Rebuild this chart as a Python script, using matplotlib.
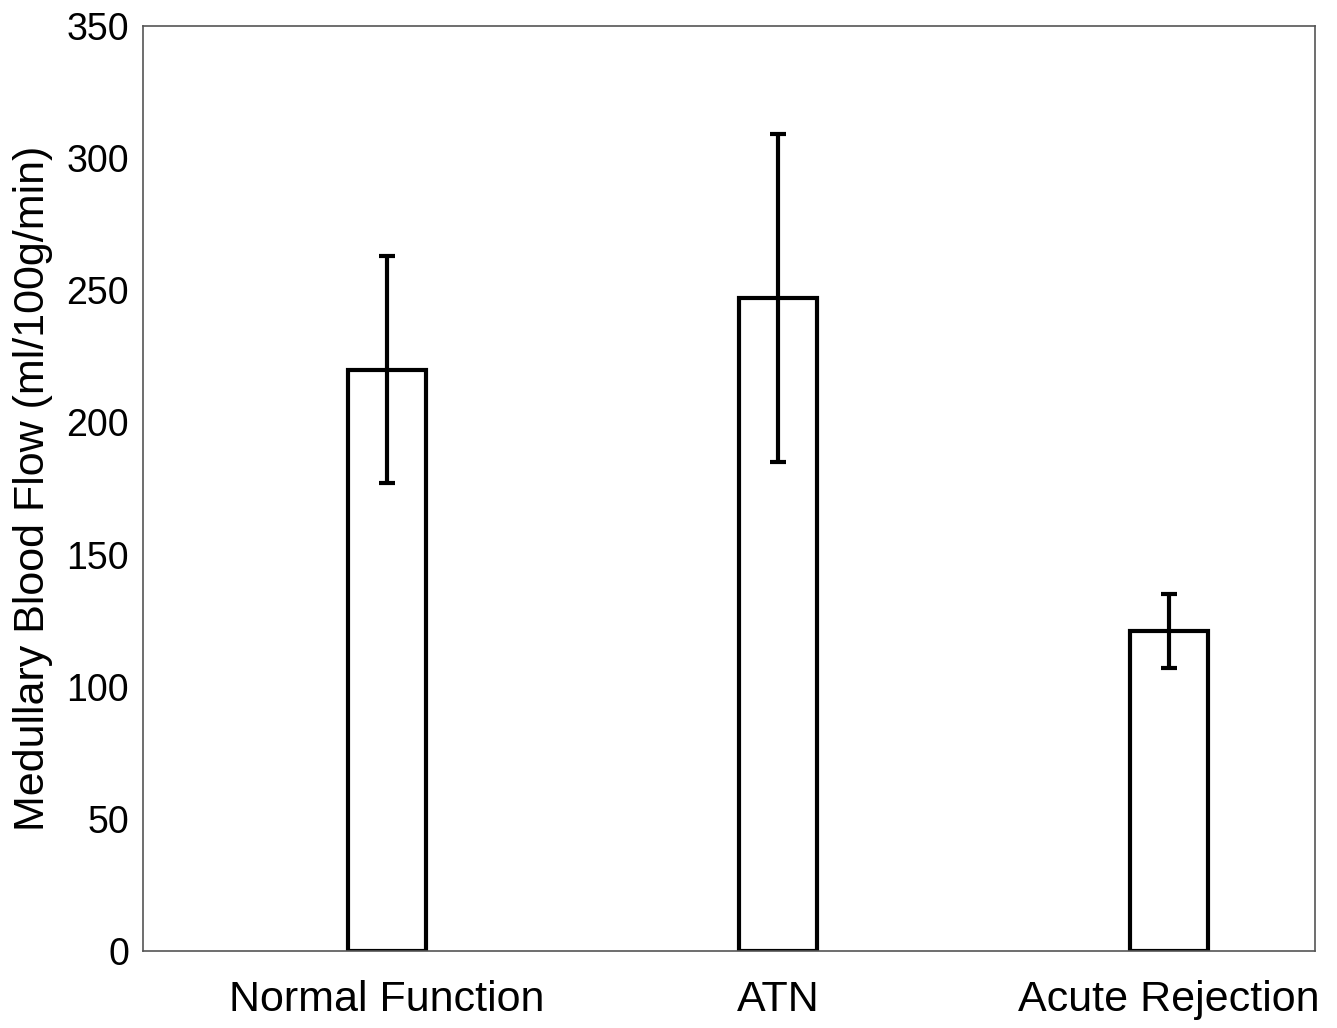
import matplotlib.pyplot as plt
import numpy as np

plt.rcParams['font.family'] = ['Liberation Sans', 'DejaVu Sans']

# Medullary blood flow by group
groups = ['Normal Function', 'ATN', 'Acute Rejection']
flow = [220, 247, 121]
flow_err = [43, 62, 14]

fig = plt.figure(figsize=(13.37, 10.28), dpi=100)
ax = fig.add_axes([0.107, 0.0749, 0.8765, 0.8998])

x = np.arange(len(groups))
ax.bar(x, flow, width=0.2, color='white', edgecolor='black', linewidth=3,
       yerr=flow_err, capsize=6, error_kw=dict(elinewidth=3, capthick=3, ecolor='black'))

ax.set_xlim(-0.624, 2.373)
ax.set_ylim(0, 350)
ax.set_yticks(np.arange(0, 351, 50))
ax.set_xticks(x)
ax.set_xticklabels(groups, fontsize=31)
ax.tick_params(axis='both', length=0, colors='black')
ax.tick_params(axis='y', labelsize=27, pad=10)
ax.tick_params(axis='x', pad=21)
ax.set_ylabel('Medullary Blood Flow (ml/100g/min)', fontsize=31, labelpad=10)

for s in ax.spines.values():
    s.set_color('#555555')
    s.set_linewidth(1.2)

plt.savefig('out.png', dpi=100)
